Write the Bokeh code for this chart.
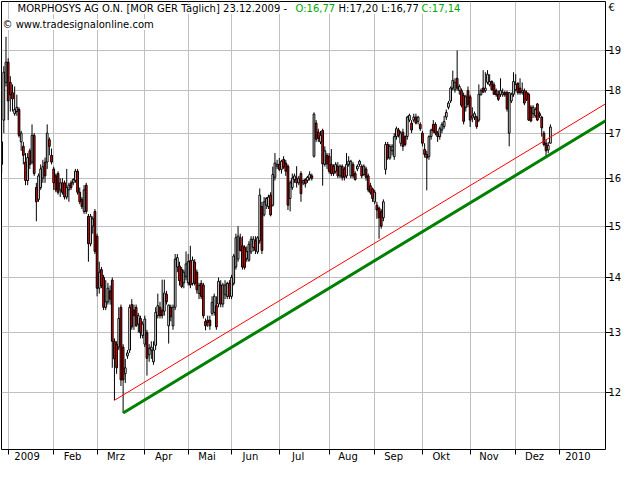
from bokeh.plotting import figure
from bokeh.models import ColumnDataSource, FixedTicker, Label, Range1d
from bokeh.embed import file_html
from bokeh.resources import INLINE

# ---------------- data ----------------
# trading-day index (0 = 2 Jan 2009); first three candles are late Dec 2008
first_day = -3
opens = [16.30, 17.30, 18.20, 18.70, 18.20, 17.95, 17.45, 17.50, 17.55, 16.80,
         16.70, 16.35, 15.95, 16.60, 16.35, 16.95, 15.80, 15.55, 15.80, 16.00,
         16.35, 16.35, 16.85, 16.50, 16.20, 16.05, 16.10, 15.75, 15.90, 15.90,
         15.60, 15.75, 15.90, 15.90, 15.95, 16.15, 15.70, 15.55, 15.30, 15.85,
         15.20, 14.65, 15.00, 15.30, 14.80, 13.80, 14.15, 14.00, 13.45, 13.55,
         13.75, 13.95, 12.85, 12.80, 12.75, 13.45, 12.75, 12.30, 12.60, 12.70,
         13.50, 13.40, 13.45, 13.15, 13.25, 12.95, 12.80, 13.00, 12.62, 12.70,
         12.50, 12.78, 13.30, 13.45, 13.40, 13.38, 13.69, 13.12, 13.45, 13.12,
         13.45, 14.20, 14.22, 14.15, 13.90, 14.02, 13.90, 14.32, 13.89, 14.29,
         14.10, 13.70, 13.89, 13.86, 13.20, 13.22, 13.22, 13.34, 13.36, 13.48,
         13.51, 13.86, 13.51, 13.68, 13.65, 13.89, 13.65, 13.89, 14.20, 14.35,
         14.77, 14.61, 14.58, 14.36, 14.33, 14.49, 14.58, 14.71, 14.49, 14.71,
         15.40, 15.23, 15.43, 15.40, 15.64, 15.43, 16.02, 16.26, 16.30, 16.19,
         16.41, 16.33, 16.26, 15.57, 15.80, 15.97, 16.00, 15.90, 16.10, 15.90,
         15.97, 15.95, 16.00, 16.05, 16.48, 17.23, 17.02, 16.80, 17.06, 16.30,
         16.50, 16.48, 16.30, 16.26, 16.15, 16.26, 16.05, 16.26, 16.20, 16.05,
         16.30, 16.05, 16.30, 16.10, 16.20, 16.30, 16.26, 16.08, 16.20, 16.05,
         15.84, 15.77, 15.50, 15.43, 15.37, 15.30, 15.17, 16.19, 16.74, 16.44,
         16.60, 16.47, 16.92, 17.07, 16.77, 17.02, 16.92, 16.92, 17.30, 17.23,
         17.30, 17.37, 17.27, 17.20, 17.00, 16.63, 16.52, 16.47, 16.92, 17.20,
         17.20, 17.00, 16.92, 17.07, 17.15, 17.37, 17.60, 17.75, 18.06, 18.02,
         18.30, 18.00, 18.00, 17.88, 17.60, 18.00, 17.85, 17.35, 17.37, 17.37,
         17.30, 17.90, 18.06, 18.00, 18.20, 18.14, 18.22, 18.14, 18.00, 17.91,
         17.91, 17.90, 17.95, 17.95, 17.00, 17.75, 17.91, 18.02, 18.18, 18.06,
         17.95, 18.00, 17.95, 17.91, 17.60, 17.45, 17.40, 17.68, 17.45, 17.37,
         17.00, 16.77, 16.62, 16.77]
highs = [17.30, 18.60, 19.35, 18.80, 18.35, 18.15, 18.10, 17.90, 17.60, 17.05,
         16.80, 16.55, 16.55, 16.65, 17.20, 17.00, 15.90, 16.10, 16.30, 16.40,
         16.45, 17.20, 16.90, 16.65, 16.25, 16.10, 16.15, 16.00, 16.00, 15.95,
         16.20, 15.90, 15.95, 16.00, 16.20, 16.20, 15.80, 15.60, 15.85, 15.90,
         15.25, 15.25, 15.20, 15.35, 14.85, 14.30, 14.20, 14.05, 13.95, 13.90,
         13.85, 14.00, 12.90, 12.85, 13.45, 13.50, 12.80, 12.55, 12.70, 13.50,
         13.60, 13.50, 13.50, 13.35, 13.30, 13.20, 13.30, 13.05, 12.80, 12.85,
         12.85, 13.45, 13.70, 13.55, 13.96, 13.96, 13.75, 13.50, 13.50, 13.50,
         14.45, 14.45, 14.30, 14.20, 14.15, 14.50, 14.45, 14.61, 14.40, 14.35,
         14.15, 13.90, 13.95, 13.90, 13.25, 13.30, 13.30, 13.65, 13.70, 13.65,
         14.00, 13.95, 13.90, 13.95, 13.92, 13.95, 14.05, 14.45, 14.85, 15.00,
         14.85, 14.80, 14.62, 14.60, 14.70, 14.80, 14.80, 14.80, 14.80, 15.78,
         15.50, 15.60, 15.60, 15.65, 15.70, 16.25, 16.55, 16.40, 16.44, 16.40,
         16.48, 16.40, 16.30, 15.95, 16.10, 16.10, 16.26, 16.05, 16.15, 15.97,
         16.00, 16.05, 16.15, 16.10, 17.48, 17.30, 17.10, 17.05, 17.10, 16.70,
         16.55, 16.55, 16.64, 16.30, 16.35, 16.35, 16.30, 16.30, 16.25, 16.55,
         16.48, 16.40, 16.35, 16.15, 16.30, 16.40, 16.30, 16.30, 16.25, 16.10,
         15.90, 15.80, 15.75, 15.50, 15.40, 15.35, 15.55, 16.80, 16.80, 16.75,
         16.75, 17.00, 17.15, 17.12, 17.05, 17.10, 16.95, 17.40, 17.45, 17.30,
         17.45, 17.45, 17.40, 17.25, 17.05, 16.77, 16.60, 16.95, 17.10, 17.30,
         17.25, 17.05, 17.15, 17.25, 17.40, 17.55, 17.75, 18.10, 18.49, 18.30,
         19.00, 18.15, 18.05, 17.95, 17.90, 18.10, 17.90, 17.60, 17.50, 17.40,
         18.15, 18.05, 18.50, 18.45, 18.50, 18.40, 18.25, 18.20, 18.05, 18.00,
         18.30, 18.05, 18.00, 18.00, 17.95, 17.95, 18.45, 18.40, 18.20, 18.30,
         18.20, 18.05, 18.00, 17.95, 17.65, 17.65, 17.60, 17.70, 17.50, 17.40,
         17.05, 16.85, 16.80, 17.20]
lows = [16.10, 17.00, 18.10, 17.30, 17.50, 17.50, 17.40, 17.40, 16.90, 16.60,
        16.30, 15.85, 15.85, 16.20, 16.30, 16.05, 15.10, 15.50, 15.75, 15.90,
        15.90, 16.20, 16.50, 16.30, 15.75, 15.70, 15.65, 15.60, 15.65, 15.55,
        15.55, 15.50, 15.75, 15.85, 15.90, 15.65, 15.45, 15.35, 15.25, 15.25,
        14.30, 14.60, 14.85, 14.45, 13.65, 13.70, 13.80, 13.40, 13.40, 13.50,
        13.50, 12.40, 11.87, 12.30, 12.70, 12.10, 11.67, 12.15, 12.55, 12.65,
        13.05, 13.05, 13.10, 13.00, 12.90, 12.90, 12.75, 12.27, 12.50, 12.55,
        12.45, 12.70, 13.25, 13.25, 13.25, 13.30, 13.50, 12.81, 13.20, 13.05,
        13.40, 14.10, 13.85, 13.80, 13.80, 13.95, 13.85, 13.80, 13.85, 13.85,
        13.70, 13.60, 13.60, 13.25, 13.04, 13.10, 13.05, 13.30, 13.30, 13.05,
        13.45, 13.45, 13.45, 13.60, 13.60, 13.60, 13.60, 13.85, 14.15, 14.30,
        14.50, 14.15, 14.15, 14.30, 14.30, 14.45, 14.50, 14.45, 14.45, 14.65,
        14.45, 15.20, 15.35, 15.35, 15.20, 15.40, 15.95, 16.20, 16.15, 16.10,
        16.20, 16.05, 15.33, 15.30, 15.75, 15.90, 15.80, 15.85, 15.50, 15.85,
        15.80, 15.90, 15.95, 15.95, 16.45, 16.80, 16.80, 16.75, 15.84, 16.25,
        16.20, 16.10, 16.05, 16.05, 16.10, 16.00, 16.00, 15.95, 15.95, 16.00,
        16.25, 16.00, 16.00, 15.95, 16.15, 16.25, 16.00, 16.05, 15.95, 15.70,
        15.65, 15.50, 15.45, 15.15, 14.75, 14.95, 15.10, 16.08, 16.40, 16.40,
        16.50, 16.40, 16.85, 16.90, 16.70, 16.60, 16.70, 16.85, 17.25, 17.00,
        17.25, 17.20, 17.20, 17.05, 16.70, 16.45, 15.74, 16.40, 16.85, 17.00,
        16.95, 16.80, 16.85, 17.00, 17.10, 17.30, 17.55, 17.70, 18.00, 17.95,
        18.00, 17.90, 17.60, 17.20, 17.50, 17.60, 17.14, 17.25, 17.30, 17.10,
        17.25, 17.88, 17.95, 17.95, 18.15, 18.10, 18.00, 17.90, 17.85, 17.75,
        17.85, 17.85, 17.85, 17.50, 16.70, 17.70, 17.85, 17.98, 17.90, 17.90,
        17.90, 17.65, 17.75, 17.28, 17.25, 17.35, 17.35, 17.28, 17.35, 16.92,
        16.70, 16.48, 16.55, 16.77]
closes = [16.80, 18.45, 18.70, 17.75, 17.90, 17.80, 17.55, 17.60, 16.95, 17.00,
          16.50, 15.95, 16.45, 16.30, 16.95, 16.10, 15.50, 16.05, 16.20, 16.25,
          16.05, 17.00, 16.70, 16.35, 15.90, 15.75, 15.70, 15.90, 15.70, 15.60,
          15.80, 15.85, 15.80, 15.97, 16.15, 15.70, 15.50, 15.40, 15.75, 15.30,
          14.65, 15.20, 15.15, 14.50, 13.80, 14.10, 13.85, 13.45, 13.55, 13.80,
          13.60, 12.85, 12.55, 12.40, 13.25, 12.20, 12.20, 12.40, 12.65, 13.45,
          13.10, 13.30, 13.12, 13.30, 13.00, 13.15, 13.24, 12.56, 12.73, 12.75,
          12.70, 13.36, 13.48, 13.30, 13.30, 13.71, 13.55, 13.49, 13.28, 13.45,
          14.35, 14.38, 13.94, 13.83, 14.10, 14.26, 14.30, 13.86, 14.33, 13.89,
          13.77, 13.85, 13.65, 13.30, 13.12, 13.18, 13.12, 13.54, 13.65, 13.10,
          13.93, 13.51, 13.86, 13.86, 13.89, 13.65, 14.00, 14.41, 14.77, 14.80,
          14.52, 14.20, 14.19, 14.50, 14.64, 14.74, 14.74, 14.52, 14.77, 15.64,
          14.52, 15.50, 15.57, 15.60, 15.23, 16.08, 16.33, 16.30, 16.19, 16.37,
          16.24, 16.15, 15.43, 15.90, 16.00, 16.05, 15.90, 16.00, 15.67, 15.95,
          15.88, 16.02, 16.08, 16.00, 17.44, 16.86, 16.88, 16.95, 16.31, 16.60,
          16.31, 16.15, 16.10, 16.10, 16.30, 16.05, 16.26, 16.02, 16.02, 16.30,
          16.37, 16.37, 16.05, 15.97, 16.26, 16.37, 16.05, 16.26, 16.02, 15.75,
          15.70, 15.57, 15.70, 15.33, 15.17, 15.00, 15.50, 16.74, 16.44, 16.70,
          16.70, 16.92, 17.10, 16.95, 17.00, 16.70, 16.74, 17.37, 17.41, 17.07,
          17.37, 17.23, 17.37, 17.10, 16.77, 16.52, 16.44, 16.92, 17.07, 17.05,
          17.00, 16.92, 17.10, 17.20, 17.27, 17.48, 17.70, 18.06, 18.25, 18.20,
          18.06, 18.10, 17.65, 17.27, 17.85, 17.67, 17.30, 17.40, 17.45, 17.15,
          17.91, 18.00, 17.96, 18.06, 18.40, 18.22, 18.02, 17.91, 17.90, 17.79,
          18.00, 17.95, 17.90, 17.56, 17.95, 17.91, 18.22, 18.15, 17.95, 17.95,
          18.00, 17.70, 17.79, 17.30, 17.28, 17.60, 17.55, 17.30, 17.40, 17.12,
          16.74, 16.60, 16.72, 17.14]

month_labels = ["2009", "Feb", "Mrz", "Apr", "Mai", "Jun", "Jul",
                "Aug", "Sep", "Okt", "Nov", "Dez", "2010"]
month_start_day = [0, 21, 41, 63, 83, 103, 125, 148, 169, 191, 213, 234, 254]
price_ticks = [12, 13, 14, 15, 16, 17, 18, 19]
currency_label = "€"

# trend lines (day index, price)
red_line_day = [49, 276]
red_line_price = [11.87, 17.70]
green_line_day = [53, 276]
green_line_price = [11.67, 17.30]

title_main = "MORPHOSYS AG O.N. [MOR GER  Täglich] 23.12.2009 -"
title_open = "O:16,77"
title_hl = "H:17,20 L:16,77"
title_close = "C:17,14"
title_copy = "© www.tradesignalonline.com"

# ---------------- figure ----------------
days = list(range(first_day, first_day + len(closes)))
tops = [max(o, c) for o, c in zip(opens, closes)]
bottoms = [min(o, c) for o, c in zip(opens, closes)]
colors = ["#ffffff" if c >= o else "#ff0000" for o, c in zip(opens, closes)]
src = ColumnDataSource(dict(x=days, open=opens, high=highs, low=lows, close=closes,
                            top=tops, bottom=bottoms, color=colors))

x_start, x_end = -3.07, 275.4
y_lo, y_hi = 11.11, 20.29

p = figure(width=624, height=464, x_range=Range1d(x_start, x_end),
           y_range=Range1d(y_lo, y_hi), y_axis_type="log", y_axis_location="right",
           output_backend="svg", toolbar_location=None,
           min_border_left=1, min_border_top=1, min_border_right=0, min_border_bottom=0)
p.background_fill_color = "white"
p.border_fill_color = "white"
p.outline_line_color = "black"
p.outline_line_width = 1
p.outline_line_alpha = 1.0

FONT = "DejaVu Sans"

# grids
p.xgrid.grid_line_color = None
p.xgrid.minor_grid_line_color = "#c0c0c0"
p.ygrid.grid_line_color = "#c0c0c0"

# x axis: minor ticks at month starts, labels between them
label_pos = [m + 8.7 for m in month_start_day]
xt = FixedTicker(ticks=label_pos, minor_ticks=month_start_day)
xa = p.xaxis[0]
xa.ticker = xt
p.xgrid.ticker = xt
xa.major_label_overrides = {pos: lab for pos, lab in zip(label_pos, month_labels)}
xa.major_tick_line_color = None
xa.major_tick_in = 0
xa.major_tick_out = 5
xa.minor_tick_line_color = "black"
xa.minor_tick_in = 0
xa.minor_tick_out = 5
xa.axis_line_color = None
xa.major_label_text_font = FONT
xa.major_label_text_font_size = "10px"
xa.major_label_text_color = "black"
xa.major_label_standoff = -4

# y axis (right): dash marks via minor ticks, labels incl. currency sign at top
cur_pos = y_hi * 0.992
yt = FixedTicker(ticks=price_ticks + [cur_pos], minor_ticks=price_ticks)
ya = p.yaxis[0]
ya.ticker = yt
p.ygrid.ticker = FixedTicker(ticks=price_ticks, minor_ticks=[])
overrides = {t: str(t) for t in price_ticks}
overrides[cur_pos] = currency_label
ya.major_label_overrides = overrides
ya.major_tick_line_color = None
ya.major_tick_in = 0
ya.major_tick_out = 6
ya.minor_tick_line_color = "black"
ya.minor_tick_in = 0
ya.minor_tick_out = 6
ya.axis_line_color = None
ya.major_label_text_font = FONT
ya.major_label_text_font_size = "10px"
ya.major_label_text_color = "black"
ya.major_label_standoff = -3

# candles
p.segment(x0="x", y0="low", x1="x", y1="high", source=src, line_color="black", line_width=1)
p.vbar(x="x", width=0.8, top="top", bottom="bottom", source=src,
       fill_color="color", line_color="black", line_width=1)

# trend lines
p.line(red_line_day, red_line_price, line_color="#ff0000", line_width=1)
p.line(green_line_day, green_line_price, line_color="#008000", line_width=3)

# header texts
def hdr(text, xo, yo, color="black"):
    p.add_layout(Label(x=x_start, y=y_hi, x_units="data", y_units="data",
                       x_offset=xo, y_offset=yo, text=text, text_font=FONT,
                       text_font_size="10px", text_color=color,
                       text_baseline="middle", text_align="left",
                       background_fill_color="white"))

hdr(title_main, 16, -7)
hdr(title_open, 294, -7, "#00a800")
hdr(title_hl, 337, -7)
hdr(title_close, 420, -7, "#00a800")
hdr(title_copy, 1, -23)

open("out.html", "w").write(file_html(p, INLINE))
